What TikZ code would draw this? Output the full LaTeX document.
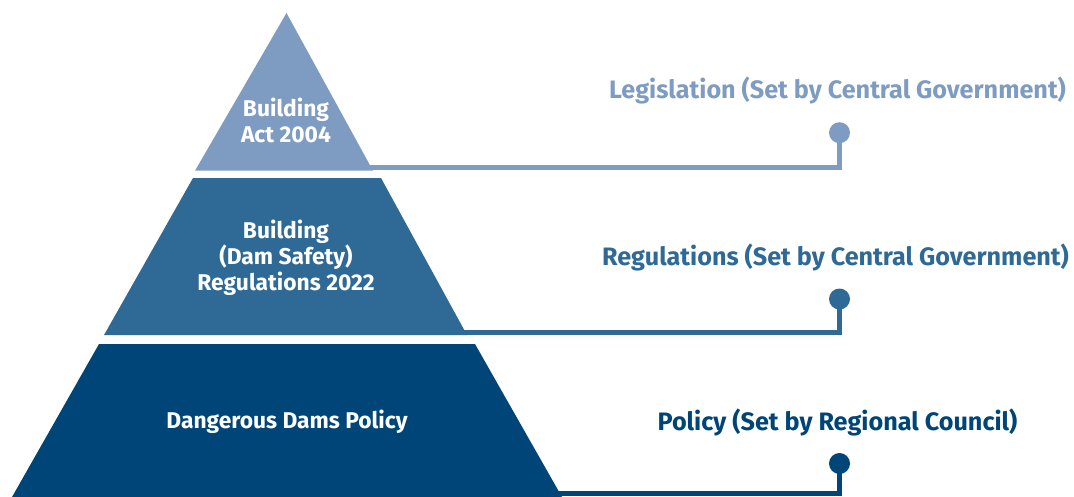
\documentclass[tikz,border=0pt]{standalone}
\usepackage{fontspec}
\setmainfont{Fira Sans}
\begin{document}
\begin{tikzpicture}[x=1pt,y=-1pt,
  tierA/.style={fill=tierAc},
  tierB/.style={fill=tierBc},
  tierC/.style={fill=tierCc},
  inner/.style={text=white,font=\bfseries\fontsize{22.8}{26}\selectfont,align=center,inner sep=0pt},
  side/.style={font=\bfseries\fontsize{25.2}{30}\selectfont,inner sep=0pt},
  link/.style={line width=5pt},
  dot/.style={circle,minimum size=21pt,inner sep=0pt}]
\definecolor{tierAc}{RGB}{126,156,193}
\definecolor{tierBc}{RGB}{46,106,149}
\definecolor{tierCc}{RGB}{0,69,119}
\useasboundingbox (0,0) rectangle (1074,496);

% pyramid tiers
\fill[tierA] (286.5,13) -- (373,170.7) -- (195,170.7) -- cycle;
\fill[tierB] (193,178) -- (381,178) -- (467,335) -- (104,335) -- cycle;
\fill[tierC] (99,344) -- (475,344) -- (562,497) -- (12,497) -- cycle;

% tier texts
\node[inner] (actText) at (286,120) {Building\\Act 2004};
\node[inner] (regText) at (286,258) {Building\\(Dam Safety)\\Regulations 2022};
\node[inner] (polText) at (287,422) {Dangerous Dams Policy};

% right-hand labels
\node[side,text=tierAc] (legLabel) at (837.5,90) {Legislation (Set by Central Government)};
\node[side,text=tierBc] (regLabel) at (835.5,257) {Regulations (Set by Central Government)};
\node[side,text=tierCc] (polLabel) at (837.5,422) {Policy (Set by Regional Council)};

% connector ends
\coordinate (legStart) at (368,167.7);
\coordinate (regStart) at (462,332.8);
\coordinate (polStart) at (555,493.8);
\node[dot,fill=tierAc] (legDot) at (839.5,132.7) {};
\node[dot,fill=tierBc] (regDot) at (839.5,299) {};
\node[dot,fill=tierCc] (polDot) at (839.5,463.5) {};

% connectors
\draw[link,draw=tierAc] (legStart) -| (legDot.center);
\draw[link,draw=tierBc] (regStart) -| (regDot.center);
\draw[link,draw=tierCc] (polStart) -| (polDot.center);
\end{tikzpicture}
\end{document}
